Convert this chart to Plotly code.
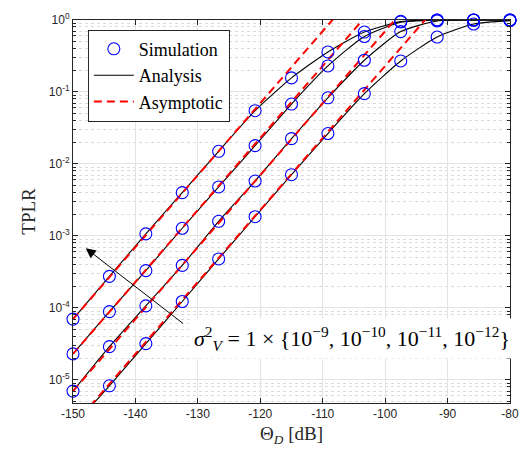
import plotly.graph_objects as go

theta_db = [-150, -144.17, -138.33, -132.5, -126.67, -120.83, -115, -109.17,
            -103.33, -97.5, -91.67, -85.83, -80]

sim_a = [7.0e-5, 2.75e-4, 1.07e-3, 4.0e-3, 1.5e-2, 5.5e-2, 0.157, 0.36, 0.68, 0.96, 1.0, 1.0, 1.0]
sim_b = [2.3e-5, 8.9e-5, 3.3e-4, 1.28e-3, 4.8e-3, 1.8e-2, 6.8e-2, 0.23, 0.59, 0.94, 1.0, 1.0, 1.0]
sim_c = [7.0e-6, 2.9e-5, 1.07e-4, 3.9e-4, 1.6e-3, 5.8e-3, 2.25e-2, 8.3e-2, 0.276, 0.69, 0.97, 1.0, 1.0]
sim_d = [None, 8.3e-6, 3.2e-5, 1.23e-4, 4.8e-4, 1.85e-3, 7.1e-3, 2.65e-2, 9.5e-2, 0.27, 0.58, 0.88, 0.98]

ana_a = [7.0e-5, 2.75e-4, 1.07e-3, 4.0e-3, 1.5e-2, 5.5e-2, 0.157, 0.36, 0.68, 0.95, 1.0, 1.0, 1.0]
ana_b = [2.3e-5, 8.9e-5, 3.3e-4, 1.28e-3, 4.8e-3, 1.8e-2, 6.8e-2, 0.23, 0.59, 0.93, 1.0, 1.0, 1.0]
ana_c = [7.0e-6, 2.9e-5, 1.07e-4, 3.9e-4, 1.6e-3, 5.8e-3, 2.25e-2, 8.3e-2, 0.276, 0.69, 0.97, 1.0, 1.0]
ana_d = [2.3e-6, 8.3e-6, 3.2e-5, 1.23e-4, 4.8e-4, 1.85e-3, 7.1e-3, 2.65e-2, 9.5e-2, 0.27, 0.58, 0.88, 0.98]

asym_x = [-150, -80]
asym_a = [7.0e-5, 7.0e2]
asym_b = [2.3e-5, 2.3e2]
asym_c = [7.0e-6, 7.0e1]
asym_d = [2.3e-6, 2.3e1]

x_ticks = [-150, -140, -130, -120, -110, -100, -90, -80]
x_ticktext = ["-150", "-140", "-130", "-120", "-110", "-100", "-90", "-80"]
y_ticks = [1e-5, 1e-4, 1e-3, 1e-2, 1e-1, 1]
y_ticktext = ["10<sup>-5</sup>", "10<sup>-4</sup>", "10<sup>-3</sup>",
              "10<sup>-2</sup>", "10<sup>-1</sup>", "10<sup>0</sup>"]
y_minor = [m * 10.0 ** e for e in range(-6, 0) for m in range(2, 10)]

fig = go.Figure()

serif = "Liberation Serif"
sans = "Liberation Sans"

for ys in [ana_a, ana_b, ana_c, ana_d]:
    fig.add_trace(go.Scatter(x=theta_db, y=ys, mode="lines",
                             line=dict(color="black", width=1.1, shape="spline", smoothing=0.6),
                             name="Analysis", showlegend=False))

for ys in [asym_a, asym_b, asym_c, asym_d]:
    fig.add_trace(go.Scatter(x=asym_x, y=ys, mode="lines",
                             line=dict(color="#ff0000", width=2, dash="8px,5px"),
                             name="Asymptotic", showlegend=False))

for ys in [sim_a, sim_b, sim_c, sim_d]:
    fig.add_trace(go.Scatter(x=theta_db, y=ys, mode="markers", cliponaxis=False,
                             marker=dict(symbol="circle-open", size=12, color="#0000ff",
                                         line=dict(width=1.1, color="#0000ff")),
                             name="Simulation", showlegend=False))

# legend entries
fig.add_trace(go.Scatter(x=[None], y=[None], mode="markers", name="Simulation",
                         marker=dict(symbol="circle-open", size=12, color="#0000ff",
                                     line=dict(width=1.1, color="#0000ff"))))
fig.add_trace(go.Scatter(x=[None], y=[None], mode="lines", name="Analysis",
                         line=dict(color="black", width=1.1)))
fig.add_trace(go.Scatter(x=[None], y=[None], mode="lines", name="Asymptotic",
                         line=dict(color="#ff0000", width=2, dash="8px,5px")))

axcol = "#262626"
fig.update_layout(
    width=530, height=453,
    margin=dict(l=73, r=11, t=15, b=50),
    paper_bgcolor="white", plot_bgcolor="white",
    font=dict(family=serif, size=14, color="black"),
    showlegend=True,
    legend=dict(x=0.034, y=0.975, xanchor="left", yanchor="top",
                bgcolor="white", bordercolor="#262626", borderwidth=1,
                font=dict(family=serif, size=18, color="black"),
                tracegroupgap=0, itemwidth=40),
    xaxis=dict(range=[-150, -80], tickvals=x_ticks, ticktext=x_ticktext,
               showgrid=True, gridcolor="#e3e3e3", gridwidth=1,
               ticks="inside", ticklen=5, tickcolor=axcol,
               showline=True, linecolor=axcol, linewidth=1, mirror="ticks",
               zeroline=False,
               tickfont=dict(family=sans, size=12, color=axcol),
               title=dict(text="Θ<sub><i>D</i></sub> [dB]", standoff=6,
                          font=dict(family=serif, size=19, color=axcol))),
    yaxis=dict(type="log", range=[-5.32, 0], tickvals=y_ticks, ticktext=y_ticktext,
               showgrid=True, gridcolor="#e3e3e3", gridwidth=1,
               ticks="inside", ticklen=5, tickcolor=axcol,
               showline=True, linecolor=axcol, linewidth=1, mirror="ticks",
               zeroline=False,
               tickfont=dict(family=sans, size=12, color=axcol),
               minor=dict(tickvals=y_minor, ticks="inside", ticklen=3, tickcolor=axcol,
                          showgrid=True, gridcolor="#dadada", griddash="dot", gridwidth=1),
               title=dict(text="TPLR", standoff=8,
                          font=dict(family=serif, size=19, color=axcol))),
)

fig.add_annotation(x=-147.96, y=-3.17, ax=-132.15, ay=-4.23,
                   xref="x", yref="y", axref="x", ayref="y",
                   text="", showarrow=True, arrowhead=2, arrowsize=2,
                   arrowwidth=1, arrowcolor="black")
fig.add_annotation(x=-105.3, y=-4.43, xref="x", yref="y", xanchor="center", yanchor="middle",
                   text="<i>σ</i><sup>2</sup><sub><i>V</i></sub> = 1 × {10<sup>−9</sup>, 10<sup>−10</sup>, 10<sup>−11</sup>, 10<sup>−12</sup>}",
                   showarrow=False, bgcolor="white", borderpad=4,
                   font=dict(family=serif, size=22, color="black"))

fig.write_html("out.html")
